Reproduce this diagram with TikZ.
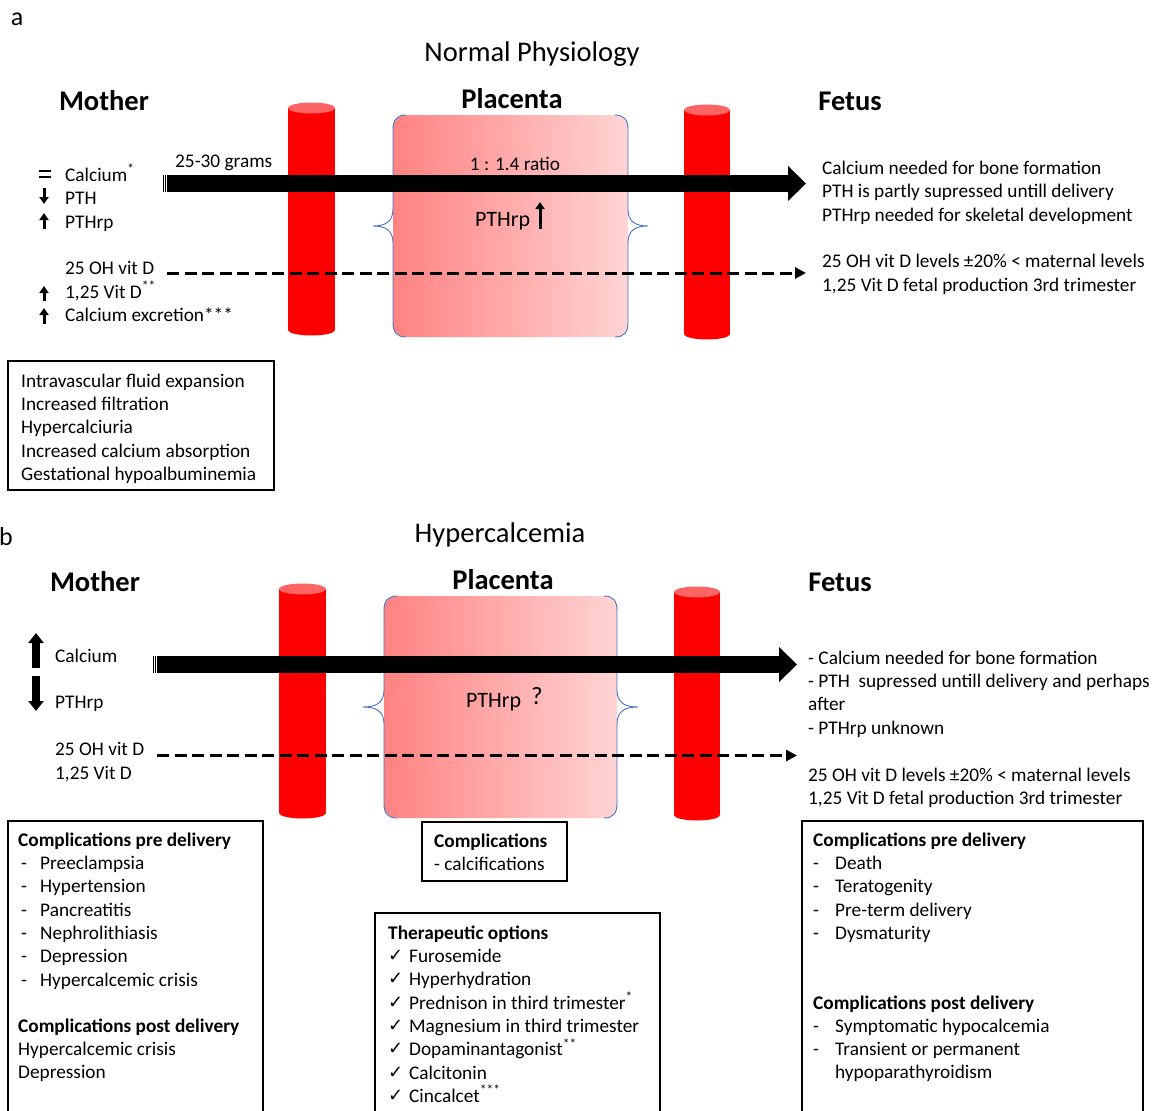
\documentclass[tikz,border=0pt]{standalone}
\usepackage{fontspec}
\setmainfont{Carlito}
\newfontfamily\djv{DejaVu Sans}
\usetikzlibrary{arrows.meta}
\definecolor{cylred}{RGB}{255,0,0}
\definecolor{cyltop}{RGB}{255,100,100}
\definecolor{plleft}{RGB}{255,130,130}
\definecolor{plright}{RGB}{255,212,212}
\definecolor{braceblue}{RGB}{68,114,196}
\newcommand\mycyl[5]{% name, xl, xr, ytop, ybot
  \fill[cylred] (#2,#4) rectangle (#3,#5);
  \fill[cylred] ({(#2+#3)/2},#5) ellipse [x radius={(#3-#2)/2}, y radius=5.5];
  \fill[cyltop] ({(#2+#3)/2},#4) ellipse [x radius={(#3-#2)/2}, y radius=5.5];
  \coordinate (#1) at ({(#2+#3)/2},{(#4+#5)/2});
}
\newcommand\myplacenta[6]{% name, L, R, T, B, tipdx
  \shade[left color=plleft, right color=plright, rounded corners=13pt] (#2,#4) rectangle (#3,#5);
  \coordinate (#1) at ({(#2+#3)/2},{(#4+#5)/2});
  \draw[brace] ({#2+13},#4) .. controls ({#2+4},#4) and (#2,{#4+5}) .. (#2,{#4+14})
    -- (#2,{(#4+#5)/2-17}) .. controls (#2,{(#4+#5)/2-4}) and ({#2-8},{(#4+#5)/2}) .. ({#2-#6},{(#4+#5)/2})
    .. controls ({#2-8},{(#4+#5)/2}) and (#2,{(#4+#5)/2+4}) .. (#2,{(#4+#5)/2+17})
    -- (#2,{#5-14}) .. controls (#2,{#5-5}) and ({#2+4},#5) .. ({#2+13},#5);
  \draw[brace] ({#3-13},#4) .. controls ({#3-4},#4) and (#3,{#4+5}) .. (#3,{#4+14})
    -- (#3,{(#4+#5)/2-17}) .. controls (#3,{(#4+#5)/2-4}) and ({#3+8},{(#4+#5)/2}) .. ({#3+#6},{(#4+#5)/2})
    .. controls ({#3+8},{(#4+#5)/2}) and (#3,{(#4+#5)/2+4}) .. (#3,{(#4+#5)/2+17})
    -- (#3,{#5-14}) .. controls (#3,{#5-5}) and ({#3-4},#5) .. ({#3-13},#5);
}
\begin{document}
\begin{tikzpicture}[x=1pt,y=-1pt,
  txt/.style={anchor=mid west, inner sep=0pt, yshift=-5pt, font=\fontsize{19.3}{23}\selectfont},
  btxt/.style={txt, font=\fontsize{19.3}{23}\selectfont\bfseries},
  ltxt/.style={txt, yshift=-1pt, font=\fontsize{22}{26}\selectfont},
  ctxt/.style={anchor=mid, inner sep=0pt, yshift=-5pt, font=\fontsize{19.3}{23}\selectfont},
  hdr/.style={inner sep=0pt, yshift=-7pt, font=\fontsize{28.5}{32}\selectfont\bfseries, anchor=mid},
  ttl/.style={inner sep=0pt, yshift=-7pt, font=\fontsize{28.5}{32}\selectfont, anchor=mid},
  letter/.style={inner sep=0pt, yshift=-5pt, font=\fontsize{26}{30}\selectfont, anchor=mid},
  brace/.style={draw=braceblue, line width=0.9pt},
  infobox/.style={draw=black, line width=1.3pt},
  bigflow/.style={line width=17pt, -{Triangle[length=18pt,width=34pt]}},
  dashflow/.style={line width=3pt, dash pattern=on 12pt off 5.5pt, -{Triangle[length=11pt,width=11pt]}},
  smallarr/.style={line width=3pt, -{Triangle[length=7pt,width=9pt]}},
  fatarr/.style={line width=8pt, -{Triangle[length=10pt,width=15pt]}},
  chk/.style={anchor=mid west, inner sep=0pt, yshift=-4pt, font=\djv\fontsize{18}{20}\selectfont},
]
\useasboundingbox (0,0) rectangle (1157,1111);
\fill[white] (0,0) rectangle (1157,1111);

% ================= Part a =================
\node[letter] (la) at (17,18) {a};
\node[ttl] (ta) at (532,52) {Normal Physiology};
\node[hdr] (ma) at (104,101) {Mother};
\node[hdr] (pa) at (512,99) {Placenta};
\node[hdr] (fa) at (850,101) {Fetus};

\myplacenta{plA}{393}{628}{115}{337}{20}
\mycyl{cylA1}{288}{335}{108}{330}
\mycyl{cylA2}{684}{730}{110}{334}

% tail stripes + big arrow
\coordinate (a1s) at (166.7,183.5);
\coordinate (a1e) at (806,183.5);
\fill[black] (162.7,175) rectangle (163.7,192);
\fill[black] (164.7,175) rectangle (165.7,192);
\draw[bigflow] (a1s) -- (a1e);
\coordinate (d1s) at (167,273);
\coordinate (d1e) at (806,273);
\draw[dashflow] (d1s) -- (d1e);

\node[txt] (g) at (175,160) {25-30 grams};
\node[ctxt] (ratio) at (515,163) {1 : 1.4 ratio};
\node[ltxt] (ptha) at (475,218) {PTHrp};
\coordinate (pau1) at (540,229); \coordinate (pau2) at (540,202);
\draw[smallarr] (pau1) -- (pau2);

% left mother list
\draw[line width=1.8pt] (39,171) -- (51,171) (39,177) -- (51,177);
\node[txt] (m1) at (65,174) {Calcium\textsuperscript{*}};
\node[txt] (m2) at (65,197) {PTH};
\node[txt] (m3) at (65,221) {PTHrp};
\node[txt] (m4) at (65,267) {25 OH vit D};
\node[txt] (m5) at (65,291) {1,25 Vit D\textsuperscript{**}};
\node[txt] (m6) at (65,314) {Calcium excretion***};
\coordinate (ar1a) at (44,188); \coordinate (ar1b) at (44,204);
\draw[smallarr] (ar1a) -- (ar1b);
\coordinate (ar2a) at (44,229); \coordinate (ar2b) at (44,213);
\draw[smallarr] (ar2a) -- (ar2b);
\coordinate (ar3a) at (44,301); \coordinate (ar3b) at (44,286);
\draw[smallarr] (ar3a) -- (ar3b);
\coordinate (ar4a) at (44,324); \coordinate (ar4b) at (44,308);
\draw[smallarr] (ar4a) -- (ar4b);

% right fetus list
\node[txt] (f1) at (822,167) {Calcium needed for bone formation};
\node[txt] (f2) at (822,190) {PTH is partly supressed untill delivery};
\node[txt] (f3) at (822,214) {PTHrp needed for skeletal development};
\node[txt] (f4) at (822,260) {25 OH vit D levels ±20\% < maternal levels};
\node[txt] (f5) at (822,284) {1,25 Vit D fetal production 3rd trimester};

% box a
\draw[infobox] (8,361) rectangle (274,490);
\foreach \t [count=\i from 0] in {Intravascular fluid expansion, Increased filtration, Hypercalciuria, Increased calcium absorption, Gestational hypoalbuminemia}
  \node[txt] (ba\i) at (21,{380+23.3*\i}) {\t};

% ================= Part b =================
\node[letter] (lb) at (6,538) {b};
\node[ttl] (tb) at (500,533) {Hypercalcemia};
\node[hdr] (mb) at (95,582) {Mother};
\node[hdr] (pb) at (503,580) {Placenta};
\node[hdr] (fb) at (840,582) {Fetus};

\myplacenta{plB}{384}{617}{596}{818}{21}
\mycyl{cylB1}{279}{326}{589}{813}
\mycyl{cylB2}{674}{720}{592}{815}

\coordinate (b1s) at (157,664.5);
\coordinate (b1e) at (797,664.5);
\fill[black] (153,656) rectangle (154,673);
\fill[black] (155,656) rectangle (156,673);
\draw[bigflow] (b1s) -- (b1e);
\coordinate (d2s) at (157,755.5);
\coordinate (d2e) at (797,755.5);
\draw[dashflow] (d2s) -- (d2e);

\node[ltxt] (pthb) at (466,699) {PTHrp};
\node[anchor=mid west, inner sep=0pt, yshift=-5pt, font=\fontsize{25}{28}\selectfont] (qm) at (531,697) {?};

\coordinate (bu1) at (36,668); \coordinate (bu2) at (36,633);
\draw[fatarr] (bu1) -- (bu2);
\coordinate (bd1) at (36,676); \coordinate (bd2) at (36,711);
\draw[fatarr] (bd1) -- (bd2);
\node[txt] (mb1) at (55,655) {Calcium};
\node[txt] (mb2) at (55,701) {PTHrp};
\node[txt] (mb3) at (55,748) {25 OH vit D};
\node[txt] (mb4) at (55,772) {1,25 Vit D};

\node[txt] (fb1) at (808,657) {- Calcium needed for bone formation};
\node[txt] (fb2) at (808,680) {- PTH\ \ supressed untill delivery and perhaps};
\node[txt] (fb3) at (808,703) {after};
\node[txt] (fb4) at (808,727) {- PTHrp unknown};
\node[txt] (fb5) at (808,774) {25 OH vit D levels ±20\% < maternal levels};
\node[txt] (fb6) at (808,797) {1,25 Vit D fetal production 3rd trimester};

% left complications box
\draw[infobox] (8,821) rectangle (263,1125);
\node[btxt] (cl0) at (18,839) {Complications pre delivery};
\foreach \t [count=\i from 1] in {Preeclampsia, Hypertension, Pancreatitis, Nephrolithiasis, Depression, Hypercalcemic crisis}{
  \node[txt] (cld\i) at (21,{839+23.3*\i}) {-};
  \node[txt] (cl\i) at (40,{839+23.3*\i}) {\t};
}
\node[btxt] (cp0) at (18,1025) {Complications post delivery};
\node[txt] (cp1) at (18,1048) {Hypercalcemic crisis};
\node[txt] (cp2) at (18,1071) {Depression};

% placenta complications box
\draw[infobox] (422,822) rectangle (567,881);
\node[btxt] (pc0) at (434,840) {Complications};
\node[txt] (pc1) at (434,863) {- calcifications};

% therapeutic box
\draw[infobox] (375,913) rectangle (660,1125);
\node[btxt] (th0) at (388,932) {Therapeutic options};
\foreach \t [count=\i from 1] in {Furosemide, Hyperhydration, Prednison in third trimester\textsuperscript{*}, Magnesium in third trimester, Dopaminantagonist\textsuperscript{**}, Calcitonin, Cincalcet\textsuperscript{***}}{
  \node[chk] (thc\i) at (388,{932+23.3*\i}) {✓};
  \node[txt] (th\i) at (409,{932+23.3*\i}) {\t};
}

% fetus complications box
\draw[infobox] (802,821) rectangle (1143,1125);
\node[btxt] (fc0) at (813,839) {Complications pre delivery};
\foreach \t [count=\i from 1] in {Death, Teratogenity, Pre-term delivery, Dysmaturity}{
  \node[txt] (fcd\i) at (813,{839+23.3*\i}) {-};
  \node[txt] (fc\i) at (835,{839+23.3*\i}) {\t};
}
\node[btxt] (fp0) at (813,1002) {Complications post delivery};
\node[txt] (fpd1) at (813,1025) {-};
\node[txt] (fp1) at (835,1025) {Symptomatic hypocalcemia};
\node[txt] (fpd2) at (813,1048) {-};
\node[txt] (fp2) at (835,1048) {Transient or permanent};
\node[txt] (fp3) at (835,1071) {hypoparathyroidism};
\end{tikzpicture}
\end{document}
